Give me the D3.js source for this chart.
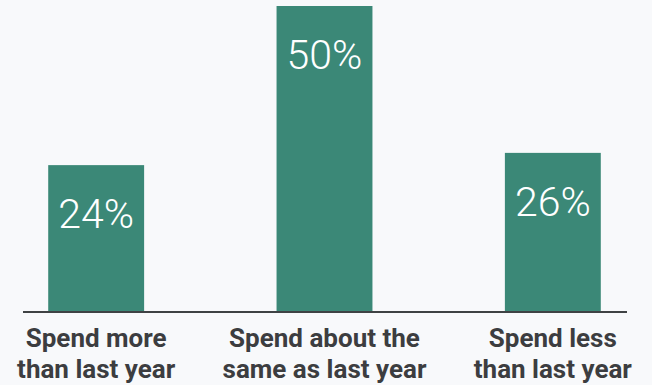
<!DOCTYPE html>
<html>
<head>
<meta charset="utf-8">
<script src="https://cdn.jsdelivr.net/npm/d3@7"></script>
<style>
  html, body { margin: 0; padding: 0; background: #f8f9fb; }
  svg { display: block; }
</style>
</head>
<body>
<svg id="chart" width="652" height="385"></svg>
<script>
// Spending intentions compared with last year
const categories = ["more", "same", "less"];
const values = [24, 50, 26];
const labelLines = [
  ["Spend more", "than last year"],
  ["Spend about the", "same as last year"],
  ["Spend less", "than last year"]
];

const width = 652, height = 385;
const baseline = 312;

const svg = d3.select("#chart");
svg.append("rect").attr("width", width).attr("height", height).attr("fill", "#f8f9fb");

const x = d3.scaleBand()
  .domain(categories)
  .range([-18, 667])
  .paddingInner(0.58)
  .paddingOuter(0.29);

const y = d3.scaleLinear()
  .domain([0, 50])
  .range([baseline, 6]);

const data = categories.map((c, i) => ({ cat: c, value: values[i], lines: labelLines[i] }));

// Bars
svg.append("g").selectAll("rect")
  .data(data)
  .join("rect")
  .attr("x", d => x(d.cat))
  .attr("y", d => y(d.value))
  .attr("width", x.bandwidth())
  .attr("height", d => baseline - y(d.value))
  .attr("fill", "#3b8877");

// Value labels inside bars
svg.append("g").selectAll("text")
  .data(data)
  .join("text")
  .attr("x", d => x(d.cat) + x.bandwidth() / 2)
  .attr("y", d => y(d.value) + 63)
  .attr("text-anchor", "middle")
  .attr("font-family", "Roboto, sans-serif")
  .attr("font-weight", 300)
  .attr("font-size", 41)
  .attr("fill", "#ffffff")
  .text(d => d.value + "%");

// Baseline axis
const axis = d3.axisBottom(x).tickSize(0).tickFormat("");
const axisG = svg.append("g").attr("transform", `translate(0,${baseline})`).call(axis);
axisG.select(".domain").remove();
axisG.append("line")
  .attr("x1", 23).attr("x2", 627)
  .attr("y1", 0).attr("y2", 0)
  .attr("stroke", "#3f4244")
  .attr("stroke-width", 2);

// Category labels
const catLabels = axisG.selectAll(".cat-label")
  .data(data)
  .join("text")
  .attr("class", "cat-label")
  .attr("x", d => x(d.cat) + x.bandwidth() / 2)
  .attr("text-anchor", "middle")
  .attr("font-family", "Roboto, sans-serif")
  .attr("font-weight", 700)
  .attr("font-size", 26)
  .attr("fill", "#3c3d40");

catLabels.selectAll("tspan")
  .data(d => d.lines)
  .join("tspan")
  .attr("x", function() { return d3.select(this.parentNode).attr("x"); })
  .attr("y", (d, i) => 35 + i * 31)
  .text(d => d);
</script>
</body>
</html>
